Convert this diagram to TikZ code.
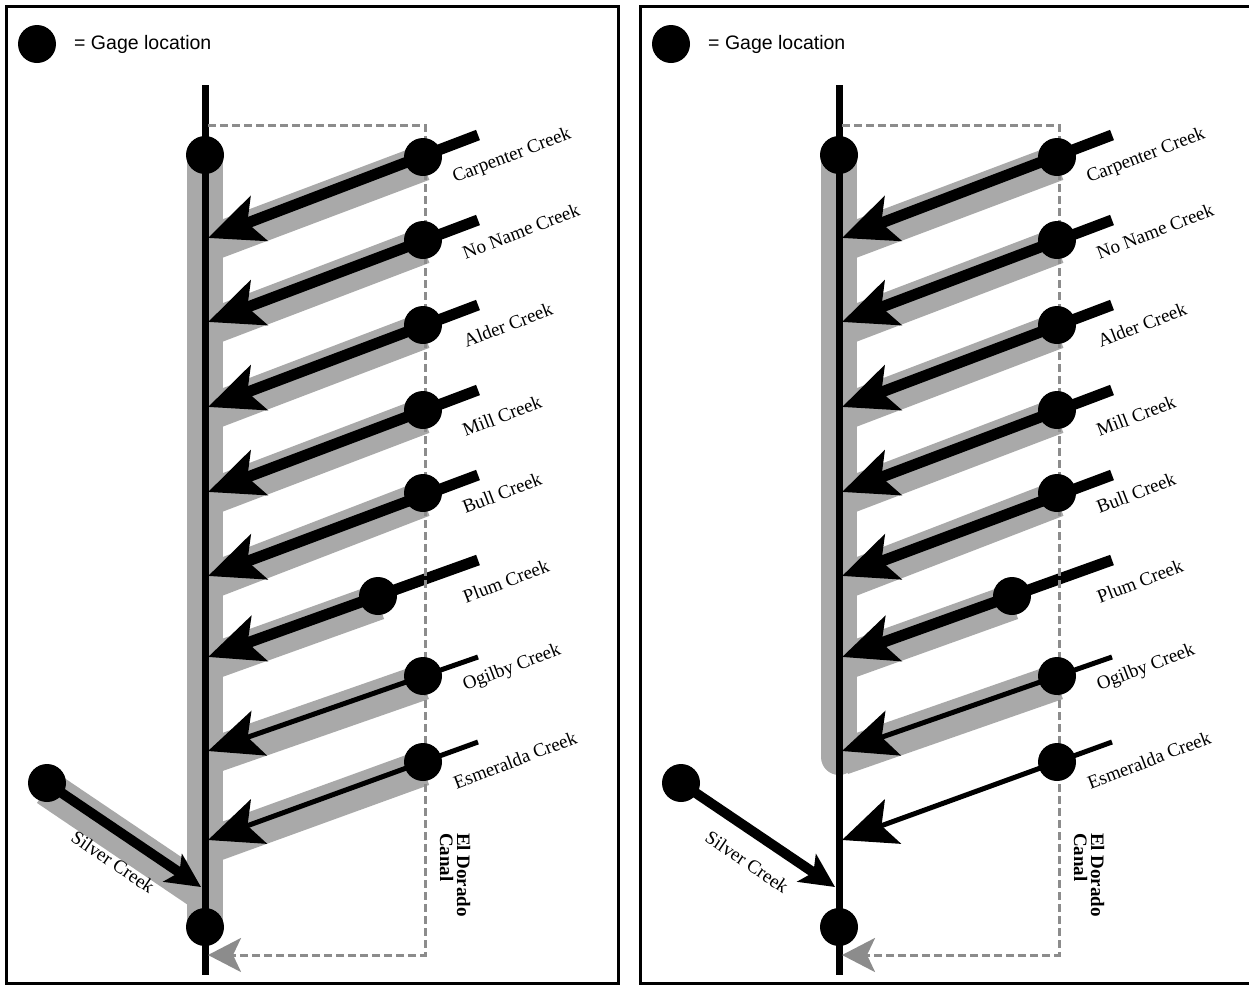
\documentclass[tikz,border=0pt]{standalone}
\usepackage{fontspec}
\setmainfont{Liberation Serif}
\newfontfamily\legendfont{Liberation Sans}
\usetikzlibrary{arrows.meta}

\definecolor{bandgray}{HTML}{A9A9A9}
\definecolor{canalgray}{HTML}{8C8C8C}

\pgfdeclarelayer{background}
\pgfsetlayers{background,main}

\tikzset{
    gage/.style={circle, fill=black, minimum size=38pt, inner sep=0pt},
    band/.style={bandgray, line width=36pt},
    river/.style={line width=7pt},
    wideflow/.style={line width=11pt, -{Stealth[length=54pt, width=47pt, inset=12pt]}},
    thinflow/.style={line width=5pt, -{Stealth[length=54pt, width=47pt, inset=12pt]}},
    sideflow/.style={line width=10pt, -{Stealth[length=34pt, width=33pt, inset=8pt]}},
    canal/.style={canalgray, line width=3pt, dash pattern=on 8pt off 4pt,
        -{Stealth[length=33pt, width=34pt, inset=8pt]}},
    creek/.style={font=\fontsize{19}{19}\selectfont, inner sep=0pt},
}

\begin{document}
\begin{tikzpicture}[x=1pt, y=-1pt]
    \useasboundingbox (0,0) rectangle (1249,986);

    % Two panels, the right one without the lower reaches
    \foreach \p/\dx/\last/\bandend in {L/0/8/925, R/634/7/757}
    {
        \begin{scope}[xshift=\dx pt]
            % Frame and legend
            \draw[line width=3pt] (6,6) rectangle (618,983);
            \node[gage] (\p-key) at (37,44) {};
            \node[anchor=west, inner sep=0pt, font=\legendfont\fontsize{19.5}{20}\selectfont]
                (\p-keytext) at (74,44) {= Gage location};

            % Main stem
            \coordinate (\p-top) at (205,85);
            \coordinate (\p-bot) at (205,975);
            \coordinate (\p-bandend) at (205,\bandend);
            \draw[river] (\p-top) -- (\p-bot);

            % Creeks coming in from the right
            \foreach \i/\ey/\gx/\gy/\ty/\w/\name/\lx/\ly in {
                1/135/423/157/238/wideflow/Carpenter Creek/512/156,
                2/220/423/240/322/wideflow/No Name Creek/521/231,
                3/305/423/325/407/wideflow/Alder Creek/508/325,
                4/390/423/410/492/wideflow/Mill Creek/502/416,
                5/475/423/493/576/wideflow/Bull Creek/502/493,
                6/560/378/596/657/wideflow/Plum Creek/506/581,
                7/657/423/676/751/thinflow/Ogilby Creek/512/668,
                8/742/423/762/840/thinflow/Esmeralda Creek/515/760}
            {
                \coordinate (\p-e\i) at (478,\ey);
                \coordinate (\p-g\i) at (\gx,\gy);
                \coordinate (\p-t\i) at (208,\ty);
                \draw[\w] (\p-e\i) -- (\p-t\i);
                \node[creek, rotate=21] (\p-l\i) at (\lx,\ly) {\name};
            }

            % Gaged reaches
            \begin{pgfonlayer}{background}
                \foreach \i in {1,...,\last}
                    \draw[band] ([yshift=-6pt]\p-g\i) -- ([yshift=-6pt]\p-t\i);
                \draw[band, line cap=round] (205,155) -- (\p-bandend);
            \end{pgfonlayer}

            % Silver Creek from the left
            \coordinate (\p-s) at (47,783);
            \coordinate (\p-st) at (201,887);
            \draw[sideflow] (\p-s) -- (\p-st);
            \node[creek, rotate=-34] (\p-silverlabel) at (113,862) {Silver Creek};

            % El Dorado Canal
            \coordinate (\p-c1) at (208,125);
            \coordinate (\p-c2) at (425,125);
            \coordinate (\p-c3) at (425,955);
            \coordinate (\p-c4) at (208,955);
            \draw[canal] (\p-c1) -- (\p-c2) -- (\p-c3) -- (\p-c4);
            \node[creek, rotate=-90, align=left, font=\bfseries\fontsize{19}{17}\selectfont]
                (\p-canallabel) at (455,875) {El Dorado\\Canal};

            % Gages
            \foreach \i in {1,...,8}
                \node[gage] (\p-gage\i) at (\p-g\i) {};
            \node[gage] (\p-upper) at (205,155) {};
            \node[gage] (\p-lower) at (205,927) {};
            \node[gage] (\p-silver) at (\p-s) {};
        \end{scope}
    }

    % Silver Creek reach is gaged only on the left
    \begin{pgfonlayer}{background}
        \draw[band] ([yshift=-5pt]L-s) -- ([yshift=-5pt]L-st);
    \end{pgfonlayer}
\end{tikzpicture}
\end{document}
